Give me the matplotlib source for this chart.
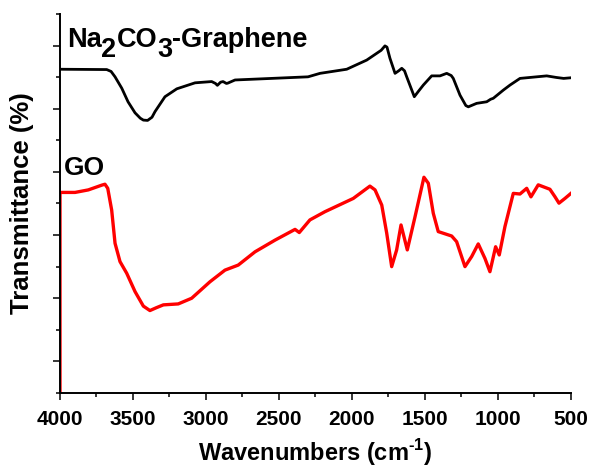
#!/usr/bin/env python3
"""FTIR spectra of Na2CO3-reduced graphene and GO  ->  out.png"""
import matplotlib
matplotlib.use("Agg")
import matplotlib.pyplot as plt
from matplotlib.ticker import MultipleLocator, NullFormatter

plt.rcParams["font.family"] = ["Liberation Sans", "DejaVu Sans"]
plt.rcParams["font.weight"] = "bold"
plt.rcParams["mathtext.fontset"] = "custom"
plt.rcParams["mathtext.rm"] = "Liberation Sans:bold"
plt.rcParams["mathtext.bf"] = "Liberation Sans:bold"

# ── spectra (wavenumber cm-1, transmittance in axis units) ──
nag_wn = [4000, 3680, 3650, 3623, 3577, 3534, 3486, 3450, 3429, 3400, 3370, 3349, 3281, 3200,
          3075, 2961, 2935, 2922, 2900, 2883, 2860, 2851, 2801, 2550, 2301, 2219,
          2036, 1899, 1800, 1774, 1760, 1740, 1705, 1680, 1659, 1640, 1625, 1573,
          1545, 1511, 1454, 1397, 1351, 1320, 1306, 1260, 1220, 1203, 1146, 1077,
          1050, 1032, 963, 917, 849, 735, 666, 600, 550, 500]
nag_t = [92.5, 92.4, 91.8, 90.1, 86.5, 82.2, 78.7, 77.0, 76.4, 76.3, 77.3, 79.1, 83.8, 86.3,
         88.2, 88.6, 88.0, 87.4, 88.4, 88.6, 88.0, 88.1, 89.1, 89.6, 90.1, 91.2,
         92.5, 95.4, 98.5, 99.9, 99.5, 96.0, 91.2, 92.0, 92.8, 92.0, 90.1, 83.8,
         85.5, 87.5, 90.4, 90.4, 91.2, 90.5, 89.6, 84.3, 81.0, 80.6, 81.7, 82.2,
         83.0, 83.3, 85.9, 87.5, 89.6, 90.1, 90.4, 89.9, 89.6, 89.8]

go_wn = [4000, 4000, 3897, 3806, 3714, 3692, 3673, 3646, 3623, 3589, 3543, 3486,
         3429, 3384, 3340, 3292, 3190, 3098, 2973, 2870, 2779, 2664, 2527, 2390,
         2361, 2288, 2185, 1991, 1877, 1842, 1796, 1762, 1728, 1694, 1664, 1621,
         1568, 1507, 1477, 1443, 1409, 1317, 1283, 1226, 1180, 1135, 1089, 1055,
         1016, 991, 952, 895, 849, 803, 774, 724, 644, 609, 582, 541, 500]
go_t = [-10, 53.5, 53.5, 54.3, 55.8, 56.1, 54.8, 47.9, 37.4, 31.6, 27.9, 22.1,
        17.5, 16.1, 17.0, 17.9, 18.2, 20.0, 25.2, 28.9, 30.5, 34.7, 38.4, 41.8,
        40.8, 44.8, 47.4, 51.6, 55.5, 54.3, 49.5, 40.6, 30.0, 35.3, 43.2, 35.3,
        45.8, 58.3, 56.4, 46.9, 41.1, 39.7, 37.9, 30.0, 33.2, 37.2, 32.6, 28.4,
        36.3, 33.7, 42.7, 53.2, 53.0, 54.8, 52.1, 55.9, 54.5, 52.1, 50.1, 51.6, 53.2]

fig = plt.figure(figsize=(5.9, 4.72), dpi=100)
ax = fig.add_axes([0.1017, 0.1674, 0.866, 0.803])

ax.plot(nag_wn, nag_t, color="black", lw=2.0, solid_joinstyle="round")
ax.plot(go_wn, go_t, color="#ff0000", lw=2.4, solid_joinstyle="round")

ax.set_xlim(4000, 500)
ax.set_ylim(-10, 110)
ax.xaxis.set_major_locator(MultipleLocator(500))
ax.xaxis.set_minor_locator(MultipleLocator(250))
ax.yaxis.set_major_locator(MultipleLocator(20))
ax.yaxis.set_minor_locator(MultipleLocator(10))
ax.yaxis.set_major_formatter(NullFormatter())
ax.spines[["top", "right"]].set_visible(False)
for s in ("left", "bottom"):
    ax.spines[s].set_linewidth(1.4)
ax.tick_params(which="major", direction="out", length=5, width=1.1, labelsize=15, pad=7)
ax.tick_params(which="minor", direction="out", length=3, width=1.1)
for lab in ax.get_xticklabels():
    lab.set_fontweight("bold")

ax.set_xlabel(r"Wavenumbers (cm$^{\text{-1}}$)", fontsize=17, weight="bold", labelpad=6)
ax.set_ylabel("Transmittance (%)", fontsize=18.5, weight="bold", labelpad=7)

# sample labels; subscripts kept near full size as in the original
kw = dict(fontsize=19.5, weight="bold", color="black")
t1 = ax.text(3954, 99.5, "Na", va="baseline", ha="left", **kw)
t2 = ax.annotate("2", xy=(1, 0), xycoords=t1, xytext=(0, -7), textcoords="offset points",
                 va="bottom", ha="left", **kw)
t3 = ax.annotate("CO", xy=(1, 0), xycoords=(t2, t1), va="bottom", ha="left", **kw)
t4 = ax.annotate("3", xy=(1, 0), xycoords=t3, xytext=(0, -7), textcoords="offset points",
                 va="bottom", ha="left", **kw)
ax.annotate("-Graphene", xy=(1, 0), xycoords=(t4, t3), va="bottom", ha="left", **kw)
ax.text(3973, 59.0, "GO", va="baseline", ha="left", fontsize=19, weight="bold", color="black")

fig.savefig("out.png", dpi=100)
